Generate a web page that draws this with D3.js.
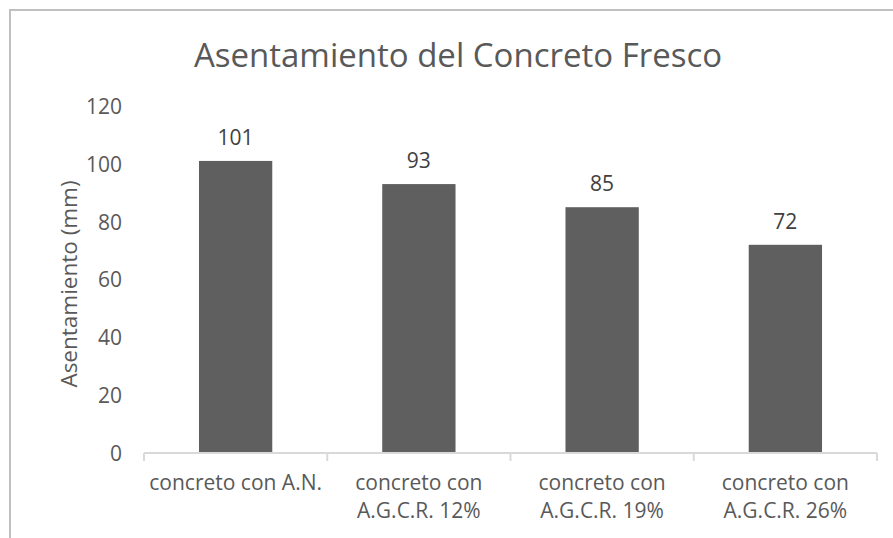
<!DOCTYPE html>
<html>
<head>
<meta charset="utf-8">
<script src="https://cdn.jsdelivr.net/npm/d3@7"></script>
<style>
  body { margin: 0; background: #fff; }
  svg text { font-family: "Open Sans", sans-serif; }
</style>
</head>
<body>
<div class="chart_area"></div>
<script>
// data
var categories = ["concreto con A.N.", "concreto con A.G.C.R. 12%", "concreto con A.G.C.R. 19%", "concreto con A.G.C.R. 26%"];
var labelLines = [["concreto con A.N."], ["concreto con", "A.G.C.R. 12%"], ["concreto con", "A.G.C.R. 19%"], ["concreto con", "A.G.C.R. 26%"]];
var values = [101, 93, 85, 72];
var yTicks = [0, 20, 40, 60, 80, 100, 120];

var width = 893, height = 538;
var margin = {left: 144, right: 16, top: 106, bottom: 85};

var svg = d3.select(".chart_area").append("svg")
  .attr("width", width)
  .attr("height", height);

// chart frame (only left and top visible, rest is cropped off)
svg.append("rect")
  .attr("x", 10).attr("y", 10)
  .attr("width", 900).attr("height", 560)
  .style("fill", "none")
  .style("stroke", "#bfbfbf")
  .style("stroke-width", 2);

var x = d3.scaleBand()
  .domain(categories)
  .range([margin.left, width - margin.right])
  .paddingInner(0.6)
  .paddingOuter(0.3);

var y = d3.scaleLinear()
  .domain([0, 120])
  .range([height - margin.bottom, margin.top]);

// title
svg.append("text")
  .attr("x", 458)
  .attr("y", 67)
  .style("text-anchor", "middle")
  .style("font-size", "33px")
  .style("fill", "#595959")
  .text("Asentamiento del Concreto Fresco");

// bars
svg.append("g").selectAll("rect")
  .data(values)
  .enter().append("rect")
  .attr("x", function (d, i) { return x(categories[i]); })
  .attr("y", function (d) { return y(d); })
  .attr("width", x.bandwidth())
  .attr("height", function (d) { return y(0) - y(d); })
  .style("fill", "#5f5f5f");

// data labels
svg.append("g").selectAll("text")
  .data(values)
  .enter().append("text")
  .attr("x", function (d, i) { return x(categories[i]) + x.bandwidth() / 2; })
  .attr("y", function (d) { return y(d) - 16; })
  .style("text-anchor", "middle")
  .style("font-size", "21px")
  .style("fill", "#404040")
  .text(function (d) { return d; });

// y axis (labels only)
var yAxis = svg.append("g")
  .attr("transform", "translate(" + (margin.left - 22) + ",0)")
  .call(d3.axisLeft(y).tickValues(yTicks).tickSize(0).tickPadding(0));
yAxis.select(".domain").remove();
yAxis.selectAll("text")
  .style("font-size", "21px")
  .style("fill", "#595959")
  .attr("dy", "0.35em");

// x axis with ticks at category boundaries
var x0 = margin.left, x1 = width - margin.right, base = y(0);
svg.append("line")
  .attr("x1", x0).attr("x2", x1)
  .attr("y1", base).attr("y2", base)
  .style("stroke", "#d9d9d9").style("stroke-width", 2);

var bounds = categories.map(function (c) { return x(c) - x.step() * x.paddingInner() / 2; });
bounds.push(x1);
svg.append("g").selectAll("line")
  .data(bounds)
  .enter().append("line")
  .attr("x1", function (d) { return d; }).attr("x2", function (d) { return d; })
  .attr("y1", base).attr("y2", base + 8)
  .style("stroke", "#d9d9d9").style("stroke-width", 2);

var xl = svg.append("g").selectAll("text")
  .data(labelLines)
  .enter().append("text")
  .attr("x", function (d, i) { return x(categories[i]) + x.bandwidth() / 2; })
  .attr("y", base + 37)
  .style("text-anchor", "middle")
  .style("font-size", "21px")
  .style("fill", "#595959");
xl.selectAll("tspan")
  .data(function (d) { return d; })
  .enter().append("tspan")
  .attr("x", function () { return d3.select(this.parentNode).attr("x"); })
  .attr("dy", function (d, i) { return i == 0 ? 0 : 28; })
  .text(function (d) { return d; });

// y axis title
svg.append("text")
  .attr("transform", "translate(77," + 284 + ") rotate(-90)")
  .style("text-anchor", "middle")
  .style("font-size", "22.5px")
  .style("fill", "#595959")
  .text("Asentamiento (mm)");
</script>
</body>
</html>
